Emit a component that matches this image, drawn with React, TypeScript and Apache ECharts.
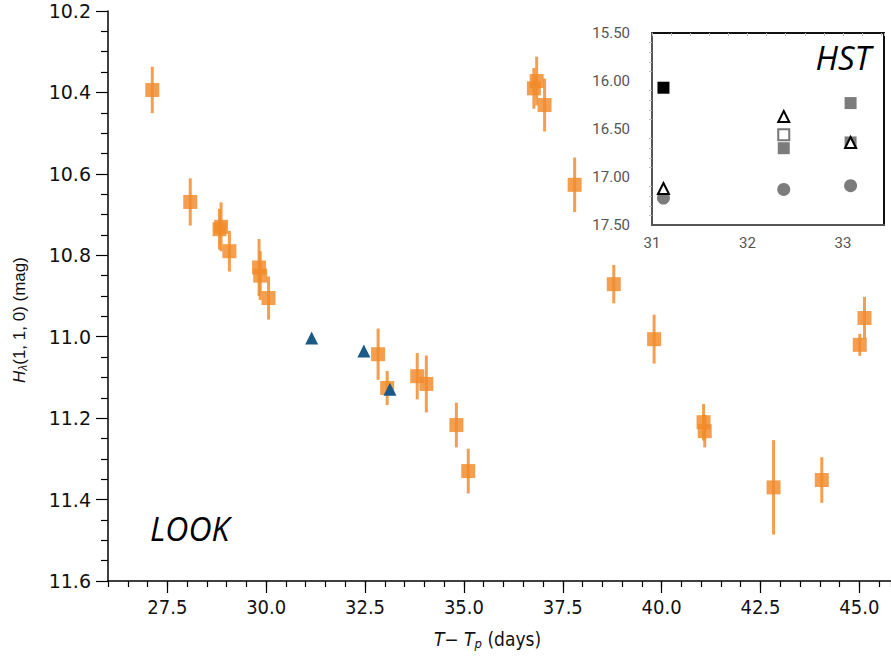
import React, { useEffect, useRef } from "react";
import * as echarts from "echarts";

// ---- Main plot (LOOK) data: [T - Tp (days), H (mag), error (mag)] ----
const lookX = [27.12, 28.08, 28.82, 28.86, 29.07, 29.82, 29.85, 30.06, 32.83, 33.06, 33.82, 34.05, 34.81, 35.11, 36.77, 36.84, 37.04, 37.8, 38.79, 39.81, 41.06, 41.09, 42.83, 44.05, 45.01, 45.13];
const lookH = [10.394, 10.669, 10.736, 10.73, 10.79, 10.83, 10.85, 10.905, 11.043, 11.126, 11.097, 11.116, 11.217, 11.33, 10.39, 10.372, 10.431, 10.627, 10.871, 11.006, 11.21, 11.232, 11.37, 11.352, 11.02, 10.954];
const lookErr = [0.057, 0.058, 0.05, 0.06, 0.05, 0.07, 0.06, 0.053, 0.063, 0.042, 0.057, 0.07, 0.055, 0.055, 0.05, 0.06, 0.065, 0.067, 0.047, 0.06, 0.045, 0.04, 0.116, 0.056, 0.027, 0.052];

// blue triangles
const triX = [31.15, 32.47, 33.13];
const triH = [11.003, 11.035, 11.129];

// ---- Inset (HST) data ----
const hstBlackSquareX = [31.12];
const hstBlackSquareH = [16.07];
const hstOpenTriX = [31.12, 32.38, 33.08];
const hstOpenTriH = [17.12, 16.37, 16.64];
const hstGrayCircleX = [31.12, 32.38, 33.08];
const hstGrayCircleH = [17.22, 17.13, 17.09];
const hstGraySquareX = [32.38, 33.08, 33.08];
const hstGraySquareH = [16.7, 16.23, 16.64];
const hstOpenSquareX = [32.38];
const hstOpenSquareH = [16.56];

// ---- Tick values ----
const mainMajorX = [27.5, 30.0, 32.5, 35.0, 37.5, 40.0, 42.5, 45.0];
const insetX = [31, 32, 33];

const ORANGE = "rgba(242,138,40,0.82)";
const BLUE = "#1b5a86";
const GRAY = "#7c7c7c";

const zip = (xs: number[], ys: number[]) => xs.map((x, i) => [x, ys[i]]);

export default function App() {
  const ref = useRef<HTMLDivElement>(null);
  useEffect(() => {
    if (!ref.current) return;
    const chart = echarts.init(ref.current, null, { renderer: "svg" });
    const lookData = lookX.map((x, i) => [x, lookH[i], lookErr[i]]);
    const option: any = {
      animation: false,
      backgroundColor: "#fff",
      grid: [
        { left: 108, top: 11, right: 0, height: 570, containLabel: false },
        {
          left: 652,
          top: 33,
          width: 232,
          height: 192,
          show: true,
          backgroundColor: "#fff",
          borderColor: "#111",
          borderWidth: 2,
          z: 5,
        },
      ],
      xAxis: [
        {
          type: "value",
          gridIndex: 0,
          min: 26,
          max: 45.8,
          interval: 0.5,
          axisLine: { show: true, onZero: false, lineStyle: { color: "#000", width: 1.5 } },
          axisTick: { show: true, length: 6, lineStyle: { color: "#000", width: 1.2 } },
          axisLabel: { show: false },
          splitLine: { show: false },
        },
        {
          type: "value",
          gridIndex: 0,
          position: "bottom",
          min: 26,
          max: 45.8,
          axisLine: { show: false, onZero: false },
          axisTick: { show: true, length: 12, customValues: mainMajorX, lineStyle: { color: "#000", width: 1.2 } },
          axisLabel: {
            show: true,
            customValues: mainMajorX,
            formatter: (v: number) => v.toFixed(1),
            fontFamily: "DejaVu Sans Condensed",
            fontSize: 20,
            color: "#111",
            margin: 16,
          },
          splitLine: { show: false },
          name: "{i|T}{n|− }{i|T}{s|p}{n| (days)}",
          nameLocation: "middle",
          nameGap: 46,
          nameTextStyle: {
            padding: [0, 24, 0, 0],
            rich: {
              i: { fontFamily: "DejaVu Sans Condensed", fontStyle: "italic", fontSize: 19, color: "#111" },
              n: { fontFamily: "DejaVu Sans Condensed", fontSize: 19, color: "#111" },
              s: { fontFamily: "DejaVu Sans Condensed", fontStyle: "italic", fontSize: 13, color: "#111", padding: [10, 0, 0, 0] },
            },
          },
        },
        {
          type: "value",
          gridIndex: 1,
          min: 31,
          max: 33.43,
          axisLine: { show: true, onZero: false, lineStyle: { color: "#555", width: 2 } },
          axisTick: { show: false, customValues: insetX },
          axisLabel: { customValues: insetX, fontFamily: "Roboto", fontSize: 15, color: "#555", margin: 10 },
          splitLine: { show: false },
          z: 6,
        },
        {
          type: "value",
          gridIndex: 1,
          min: 31,
          max: 33.43,
          interval: 0.2,
          axisLine: { show: false, onZero: false },
          axisTick: { show: true, inside: true, length: 3, lineStyle: { color: "#bbb" } },
          axisLabel: { show: false },
          splitLine: { show: false },
          z: 6,
        },
      ],
      yAxis: [
        {
          type: "value",
          gridIndex: 0,
          inverse: true,
          min: 10.2,
          max: 11.6,
          interval: 0.2,
          axisLine: { show: true, onZero: false, lineStyle: { color: "#000", width: 1.5 } },
          axisTick: { show: true, length: 12, lineStyle: { color: "#000", width: 1.2 } },
          minorTick: { show: true, splitNumber: 4, length: 7, lineStyle: { color: "#000", width: 1.2 } },
          axisLabel: {
            formatter: (v: number) => v.toFixed(1),
            fontFamily: "DejaVu Sans",
            fontSize: 19,
            color: "#111",
            margin: 17,
          },
          splitLine: { show: false },
        },
        {
          type: "value",
          gridIndex: 1,
          inverse: true,
          min: 15.5,
          max: 17.5,
          interval: 0.5,
          axisLine: { show: true, onZero: false, lineStyle: { color: "#555", width: 2 } },
          axisTick: { show: false },
          minorTick: { show: true, splitNumber: 5, length: 3, lineStyle: { color: "#bbb" } },
          axisLabel: {
            formatter: (v: number) => v.toFixed(2),
            fontFamily: "Roboto",
            fontSize: 15,
            color: "#555",
            margin: 22,
          },
          splitLine: { show: false },
          z: 6,
        },
      ],
      series: [
        {
          type: "custom",
          xAxisIndex: 0,
          yAxisIndex: 0,
          data: lookData,
          z: 3,
          renderItem: (params: any, api: any) => {
            const x = api.value(0);
            const y = api.value(1);
            const e = api.value(2);
            const c = api.coord([x, y]);
            const lo = api.coord([x, y - e]);
            const hi = api.coord([x, y + e]);
            return {
              type: "group",
              children: [
                {
                  type: "line",
                  shape: { x1: c[0], y1: lo[1], x2: c[0], y2: hi[1] },
                  style: { stroke: ORANGE, lineWidth: 3 },
                },
                {
                  type: "rect",
                  shape: { x: c[0] - 7, y: c[1] - 7, width: 14, height: 14 },
                  style: { fill: ORANGE },
                },
              ],
            };
          },
        },
        {
          type: "scatter",
          xAxisIndex: 0,
          yAxisIndex: 0,
          data: zip(triX, triH),
          symbol: "triangle",
          symbolSize: 13,
          itemStyle: { color: BLUE, opacity: 1 },
          z: 4,
        },
        {
          type: "scatter",
          xAxisIndex: 2,
          yAxisIndex: 1,
          data: zip(hstGrayCircleX, hstGrayCircleH),
          symbol: "circle",
          symbolSize: 13,
          itemStyle: { color: GRAY, opacity: 1 },
          z: 7,
        },
        {
          type: "scatter",
          xAxisIndex: 2,
          yAxisIndex: 1,
          data: zip(hstGraySquareX, hstGraySquareH),
          symbol: "rect",
          symbolSize: 12,
          itemStyle: { color: GRAY, opacity: 1 },
          z: 7,
        },
        {
          type: "scatter",
          xAxisIndex: 2,
          yAxisIndex: 1,
          data: zip(hstOpenSquareX, hstOpenSquareH),
          symbol: "rect",
          symbolSize: 11,
          itemStyle: { color: "#fff", borderColor: "#777", borderWidth: 2, opacity: 1 },
          z: 7,
        },
        {
          type: "scatter",
          xAxisIndex: 2,
          yAxisIndex: 1,
          data: zip(hstBlackSquareX, hstBlackSquareH),
          symbol: "rect",
          symbolSize: 12,
          itemStyle: { color: "#000", opacity: 1 },
          z: 7,
        },
        {
          type: "scatter",
          xAxisIndex: 2,
          yAxisIndex: 1,
          data: zip(hstOpenTriX, hstOpenTriH),
          symbol: "triangle",
          symbolSize: 11,
          itemStyle: { color: "#fff", borderColor: "#000", borderWidth: 2, opacity: 1 },
          z: 8,
        },
      ],
      graphic: [
        {
          type: "text",
          x: 19,
          y: 320,
          rotation: Math.PI / 2,
          style: {
            text: "{i|H}{s|λ}{n|(1, 1, 0) (mag)}",
            align: "center",
            verticalAlign: "middle",
            rich: {
              i: { fontFamily: "Liberation Sans", fontStyle: "italic", fontSize: 17, fill: "#111" },
              n: { fontFamily: "Liberation Sans", fontSize: 17, fill: "#111" },
              s: { fontFamily: "Liberation Sans", fontStyle: "italic", fontSize: 12, fill: "#111", padding: [8, 0, 0, 0] },
            },
          },
          z: 10,
        },
        {
          type: "text",
          left: 150,
          top: 512,
          style: {
            text: "LOOK",
            font: "italic 32px 'Open Sans'",
            fill: "#000",
          },
          z: 10,
        },
        {
          type: "text",
          right: 20,
          top: 41,
          style: {
            text: "HST",
            font: "italic 33px 'Open Sans'",
            fill: "#000",
          },
          z: 10,
        },
      ],
    };
    chart.setOption(option);
    return () => chart.dispose();
  }, []);
  return (
    <div
      ref={ref}
      style={{ position: "absolute", left: 0, top: 0, width: 891, height: 659 }}
    />
  );
}
